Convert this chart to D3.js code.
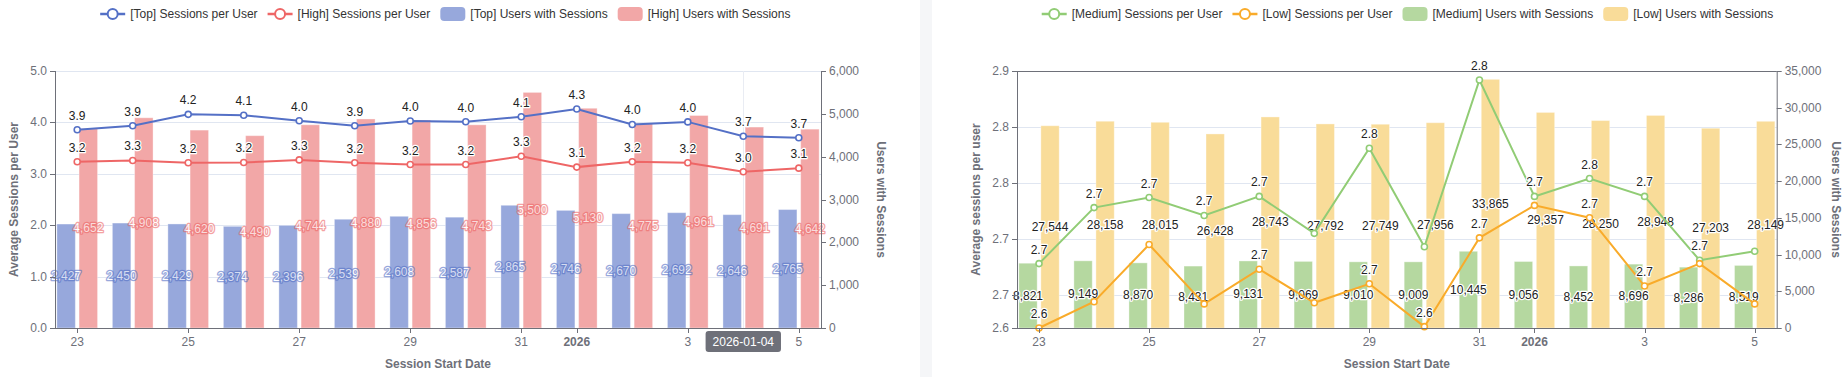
<!DOCTYPE html>
<html><head><meta charset="utf-8">
<script src="https://cdn.jsdelivr.net/npm/d3@7"></script>
<style>
html,body{margin:0;padding:0;background:#fff;}
svg{display:block;font-family:"Liberation Sans",Arial,Helvetica,sans-serif;}
</style></head><body>
<svg id="c" width="1847" height="377"></svg>
<script>
// ---------------- DATA ----------------
const dates = ["2025-12-23","2025-12-24","2025-12-25","2025-12-26","2025-12-27","2025-12-28","2025-12-29",
               "2025-12-30","2025-12-31","2026-01-01","2026-01-02","2026-01-03","2026-01-04","2026-01-05"];

const topSessionsPerUser  = [3.858,3.936,4.157,4.138,4.033,3.936,4.027,4.014,4.110,4.260,3.960,4.010,3.730,3.700];
const highSessionsPerUser = [3.235,3.260,3.216,3.220,3.270,3.216,3.180,3.180,3.340,3.130,3.235,3.216,3.040,3.110];
const topUsers  = [2427,2450,2429,2374,2396,2539,2608,2587,2865,2746,2670,2692,2646,2765];
const highUsers = [4652,4908,4620,4490,4744,4880,4856,4743,5500,5130,4775,4961,4691,4642];

const mediumSessionsPerUser = [2.678,2.728,2.737,2.721,2.738,2.705,2.781,2.693,2.842,2.738,2.754,2.738,2.681,2.689];
const lowSessionsPerUser    = [2.6205,2.644,2.695,2.642,2.673,2.643,2.660,2.6217,2.701,2.730,2.719,2.658,2.678,2.642];
const mediumUsers = [8821,9149,8870,8431,9131,9069,9010,9009,10445,9056,8452,8696,8286,8519];
const lowUsers    = [27544,28158,28015,26428,28743,27792,27749,27956,33865,29357,28250,28948,27203,28149];

const xTickDates  = ["2025-12-23","2025-12-25","2025-12-27","2025-12-29","2025-12-31","2026-01-01","2026-01-03","2026-01-05"];
const xTickLabels = ["23","25","27","29","31","2026","3","5"];
const xTickBold   = [false,false,false,false,false,true,false,false];

const leftAvgTicks      = [0,1,2,3,4,5];
const leftAvgTickLabels = ["0.0","1.0","2.0","3.0","4.0","5.0"];
const leftUsersTicks      = [0,1000,2000,3000,4000,5000,6000];
const leftUsersTickLabels = ["0","1,000","2,000","3,000","4,000","5,000","6,000"];

const rightAvgTicks      = [2.6205,2.65,2.70,2.75,2.80,2.85];
const rightAvgTickLabels = ["2.6","2.7","2.7","2.8","2.8","2.9"];
const rightUsersTicks      = [0,5000,10000,15000,20000,25000,30000,35000];
const rightUsersTickLabels = ["0","5,000","10,000","15,000","20,000","25,000","30,000","35,000"];

const pointerDate  = "2026-01-04";
const pointerLabel = "2026-01-04";

// ---------------- SETUP ----------------
const svg = d3.select("#c");
const parse = d3.utcParse("%Y-%m-%d");
const DAY = 864e5;
const AXIS = "#6E7079", SPLIT = "#E0E6F1";
const fmt1 = d3.format(".1f"), fmtInt = d3.format(",");

svg.append("rect").attr("x",920).attr("y",0).attr("width",12).attr("height",377).attr("fill","#f5f6f8");

function drawChart(cfg){
  const g = svg.append("g");
  const x0 = parse(dates[0]).getTime(), x1 = parse(dates[dates.length-1]).getTime();
  const x = d3.scaleUtc().domain([new Date(x0-0.4*DAY), new Date(x1+0.4*DAY)]).range([cfg.left, cfg.right]);
  const y = d3.scaleLinear().domain([cfg.avgTicks[0], cfg.avgTicks[cfg.avgTicks.length-1]]).range([cfg.bottom, cfg.top]);
  const y2 = d3.scaleLinear().domain([cfg.usersTicks[0], cfg.usersTicks[cfg.usersTicks.length-1]]).range([cfg.bottom, cfg.top]);
  const dayPx = x(new Date(x0+DAY)) - x(new Date(x0));
  const bw = dayPx*0.333, off = dayPx*0.2;

  // split lines
  g.append("g").selectAll("line").data(cfg.avgTicks.slice(1)).join("line")
    .attr("x1",cfg.left).attr("x2",cfg.right)
    .attr("y1",d=>Math.round(y(d))+0.5).attr("y2",d=>Math.round(y(d))+0.5)
    .attr("stroke",SPLIT).attr("stroke-width",1);

  // axis pointer line
  if(cfg.pointer){
    const px = Math.round(x(parse(cfg.pointer)))+0.5;
    g.append("line").attr("x1",px).attr("x2",px).attr("y1",cfg.top).attr("y2",cfg.bottom)
      .attr("stroke","#e9ecf3").attr("stroke-width",1);
  }

  const labels = [];
  // bars
  const barLayer = g.append("g");
  const barLabelLayer = g.append("g");
  cfg.bars.forEach((s,si)=>{
    const o = si===0 ? -off : off;
    barLayer.append("g").selectAll("rect").data(s.values).join("rect")
      .attr("x",(d,i)=>x(parse(dates[i]))+o-bw/2)
      .attr("width",bw)
      .attr("y",d=>y2(d)).attr("height",d=>cfg.bottom-y2(d))
      .attr("fill",s.color).attr("stroke","#ffffff").attr("stroke-opacity",0.35).attr("stroke-width",1);
    s.values.forEach((d,i)=>{
      const t = barLabelLayer.append("text")
        .attr("x",x(parse(dates[i]))+o).attr("y",(y2(d)+cfg.bottom)/2)
        .attr("text-anchor","middle").attr("dominant-baseline","central")
        .attr("font-size",12).attr("fill",s.labelFill)
        .attr("stroke",s.labelStroke).attr("stroke-width",2.5).attr("stroke-linejoin","round")
        .attr("opacity",s.labelOpacity)
        .attr("paint-order","stroke").text(fmtInt(d));
      labels.push({t, pr: bw*(cfg.bottom-y2(d))});
    });
  });

  // lines
  const lineLayer = g.append("g");
  cfg.lines.forEach(s=>{
    const pts = s.values.map((d,i)=>[x(parse(dates[i])), y(d)]);
    lineLayer.append("path").attr("d",d3.line()(pts)).attr("fill","none").attr("stroke",s.color).attr("stroke-width",2);
    lineLayer.append("g").selectAll("circle").data(pts).join("circle")
      .attr("cx",d=>d[0]).attr("cy",d=>d[1]).attr("r",3)
      .attr("fill","#fff").attr("stroke",s.color).attr("stroke-width",1.6);
  });
  cfg.lines.forEach(s=>{
    s.values.forEach((d,i)=>{
      const t = g.append("text")
        .attr("x",x(parse(dates[i]))).attr("y",y(d)-14)
        .attr("text-anchor","middle").attr("dominant-baseline","central")
        .attr("font-size",12).attr("fill","#222")
        .attr("stroke","#fff").attr("stroke-width",2.5).attr("stroke-linejoin","round")
        .attr("paint-order","stroke").text(fmt1(d));
      labels.push({t, pr: 0});
    });
  });

  // hide overlapping labels (greedy, by priority)
  const sorted = labels.map((l,k)=>({...l,k})).sort((a,b)=> (b.pr-a.pr) || (a.k-b.k));
  const placed = [];
  sorted.forEach(l=>{
    const b = l.t.node().getBBox();
    const hit = placed.some(p=> b.x < p.x+p.width && p.x < b.x+b.width && b.y < p.y+p.height && p.y < b.y+b.height);
    if(hit) l.t.remove(); else placed.push(b);
  });

  // axes
  if(cfg.topLine){
    g.append("line").attr("x1",cfg.left).attr("x2",cfg.right).attr("y1",cfg.top+0.5).attr("y2",cfg.top+0.5).attr("stroke",AXIS);
  }
  const ax = g.append("g").attr("stroke",AXIS);
  ax.append("line").attr("x1",cfg.left+0.5).attr("x2",cfg.left+0.5).attr("y1",cfg.top).attr("y2",cfg.bottom);
  ax.append("line").attr("x1",cfg.right+0.5).attr("x2",cfg.right+0.5).attr("y1",cfg.top).attr("y2",cfg.bottom);
  ax.append("line").attr("x1",cfg.left).attr("x2",cfg.right+1).attr("y1",cfg.bottom+0.5).attr("y2",cfg.bottom+0.5);

  cfg.avgTicks.forEach((d,i)=>{
    const yy = Math.round(y(d))+0.5;
    g.append("line").attr("x1",cfg.left-5).attr("x2",cfg.left).attr("y1",yy).attr("y2",yy).attr("stroke",AXIS);
    g.append("text").attr("x",cfg.left-8).attr("y",y(d)).attr("text-anchor","end").attr("dominant-baseline","central")
      .attr("font-size",12).attr("fill",AXIS).text(cfg.avgTickLabels[i]);
  });
  cfg.usersTicks.forEach((d,i)=>{
    const yy = Math.round(y2(d))+0.5;
    g.append("line").attr("x1",cfg.right).attr("x2",cfg.right+5).attr("y1",yy).attr("y2",yy).attr("stroke",AXIS);
    g.append("text").attr("x",cfg.right+8).attr("y",y2(d)).attr("text-anchor","start").attr("dominant-baseline","central")
      .attr("font-size",12).attr("fill",AXIS).text(cfg.usersTickLabels[i]);
  });
  xTickDates.forEach((d,i)=>{
    const xx = Math.round(x(parse(d)))+0.5;
    g.append("line").attr("x1",xx).attr("x2",xx).attr("y1",cfg.bottom).attr("y2",cfg.bottom+5).attr("stroke",AXIS);
    g.append("text").attr("x",x(parse(d))).attr("y",cfg.bottom+14).attr("text-anchor","middle").attr("dominant-baseline","central")
      .attr("font-size",12).attr("fill",AXIS).attr("font-weight",xTickBold[i]?"bold":"normal").text(xTickLabels[i]);
  });

  // axis names
  const midY = (cfg.top+cfg.bottom)/2;
  g.append("text").attr("transform",`translate(${cfg.leftNameX},${midY}) rotate(-90)`)
    .attr("text-anchor","middle").attr("dominant-baseline","central").attr("font-size",12).attr("font-weight","bold")
    .attr("fill",AXIS).text(cfg.leftName);
  g.append("text").attr("transform",`translate(${cfg.rightNameX},${midY}) rotate(90)`)
    .attr("text-anchor","middle").attr("dominant-baseline","central").attr("font-size",12).attr("font-weight","bold")
    .attr("fill",AXIS).text(cfg.rightName);
  g.append("text").attr("x",(cfg.left+cfg.right)/2).attr("y",363.7).attr("text-anchor","middle").attr("dominant-baseline","central")
    .attr("font-size",12).attr("font-weight","bold").attr("fill",AXIS).text("Session Start Date");

  // pointer label
  if(cfg.pointer){
    const px = x(parse(cfg.pointer));
    const pg = g.append("g");
    const t = pg.append("text").attr("x",px).attr("y",341.7).attr("text-anchor","middle").attr("dominant-baseline","central")
      .attr("font-size",12).attr("fill","#fff").text(cfg.pointerLabel);
    const w = t.node().getComputedTextLength()+14;
    pg.insert("rect","text").attr("x",px-w/2).attr("y",331).attr("width",w).attr("height",21).attr("rx",3).attr("fill","#6E7079");
  }

  // legend
  const items = [
    ...cfg.lines.map(s=>({type:"line",name:s.name,color:s.color})),
    ...cfg.bars.map(s=>({type:"bar",name:s.name,color:s.color}))
  ];
  const lg = g.append("g");
  let cx = 0;
  items.forEach(it=>{
    const ig = lg.append("g").attr("transform",`translate(${cx},0)`);
    if(it.type==="line"){
      ig.append("line").attr("x1",0).attr("x2",25).attr("y1",14).attr("y2",14).attr("stroke",it.color).attr("stroke-width",2.5);
      ig.append("circle").attr("cx",12.5).attr("cy",14).attr("r",5).attr("fill","#fff").attr("stroke",it.color).attr("stroke-width",2);
    } else {
      ig.append("rect").attr("x",0).attr("y",7).attr("width",25).attr("height",14).attr("rx",4).attr("fill",it.color);
    }
    const t = ig.append("text").attr("x",30).attr("y",14).attr("dominant-baseline","central")
      .attr("font-size",12).attr("fill","#333").text(it.name);
    cx += 30 + t.node().getComputedTextLength() + 10;
  });
  const total = cx - 10;
  lg.attr("transform",`translate(${cfg.legendCenter-total/2},0)`);
}

drawChart({
  left:55, right:821, top:71, bottom:328,
  avgTicks:leftAvgTicks, avgTickLabels:leftAvgTickLabels,
  usersTicks:leftUsersTicks, usersTickLabels:leftUsersTickLabels,
  lines:[{name:"[Top] Sessions per User",values:topSessionsPerUser,color:"#5470c6"},
         {name:"[High] Sessions per User",values:highSessionsPerUser,color:"#ee6666"}],
  bars:[{name:"[Top] Users with Sessions",values:topUsers,color:"#97a8dc",labelFill:"#ffffff",labelStroke:"#5470c6",labelOpacity:0.6},
        {name:"[High] Users with Sessions",values:highUsers,color:"#f2a7a7",labelFill:"#ffffff",labelStroke:"#ee6666",labelOpacity:0.6}],
  leftName:"Average Sessions per User", rightName:"Users with Sessions",
  leftNameX:14, rightNameX:881.3, legendCenter:445.3,
  pointer:pointerDate, pointerLabel:pointerLabel, topLine:false
});
drawChart({
  left:1017, right:1776.7, top:71, bottom:328,
  avgTicks:rightAvgTicks, avgTickLabels:rightAvgTickLabels,
  usersTicks:rightUsersTicks, usersTickLabels:rightUsersTickLabels,
  lines:[{name:"[Medium] Sessions per User",values:mediumSessionsPerUser,color:"#91cc75"},
         {name:"[Low] Sessions per User",values:lowSessionsPerUser,color:"#f9ab2a"}],
  bars:[{name:"[Medium] Users with Sessions",values:mediumUsers,color:"#b5d8a0",labelFill:"#222",labelStroke:"#fff",labelOpacity:1},
        {name:"[Low] Users with Sessions",values:lowUsers,color:"#f9dc99",labelFill:"#222",labelStroke:"#fff",labelOpacity:1}],
  leftName:"Average sessions per user", rightName:"Users with Sessions",
  leftNameX:976, rightNameX:1836, legendCenter:1407.5,
  pointer:null, topLine:true
});
</script>
</body></html>
